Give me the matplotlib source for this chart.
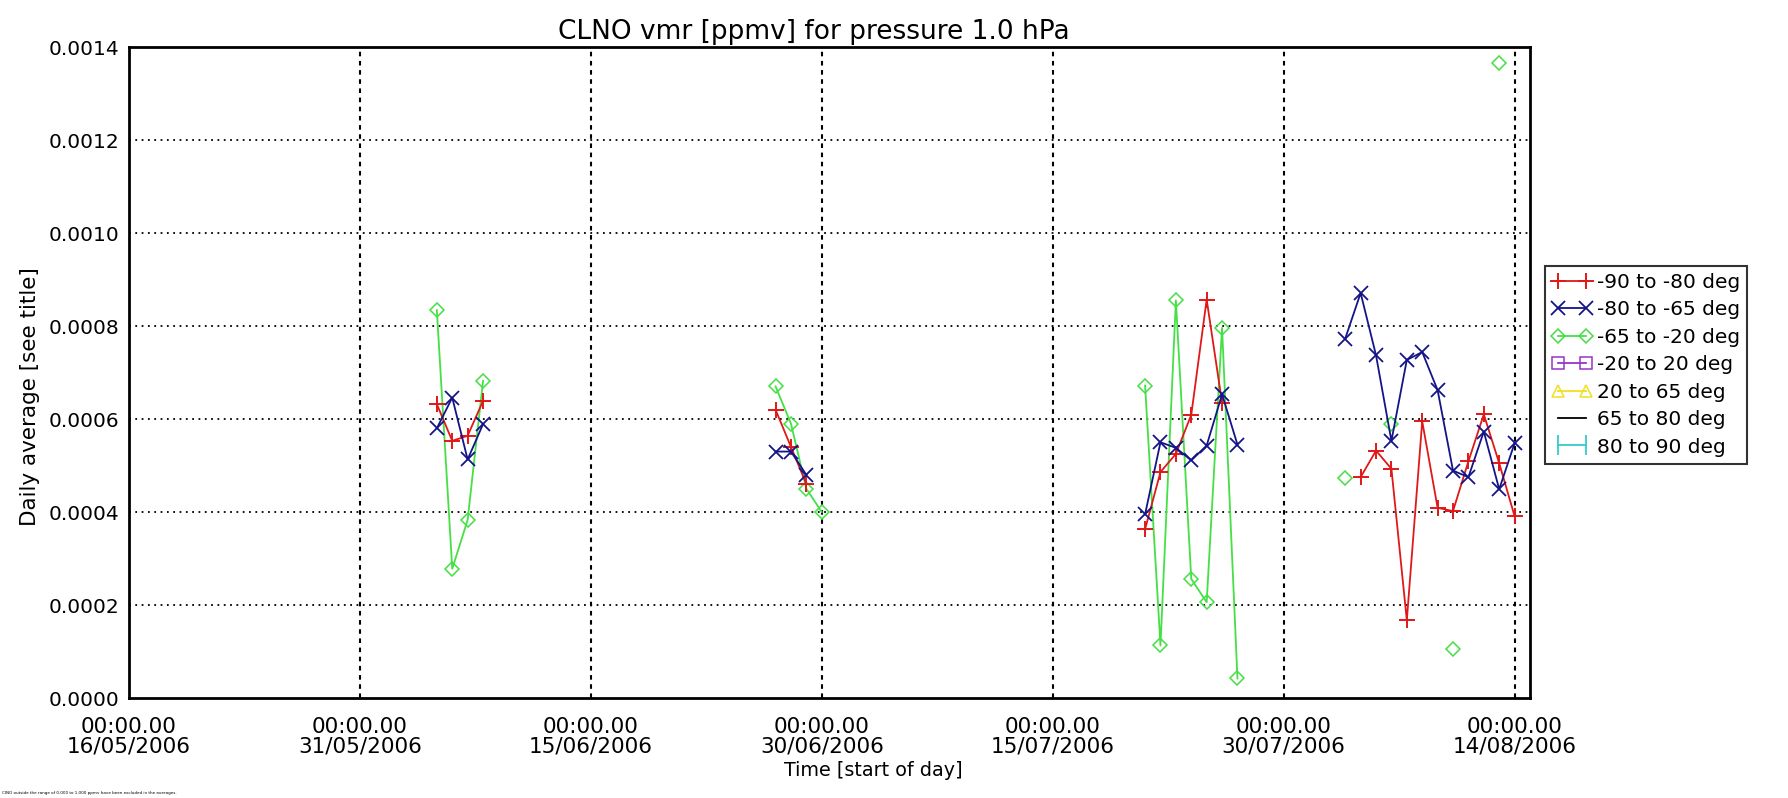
import numpy as np
import pandas as pd
import matplotlib
matplotlib.use("Agg")
import matplotlib.pyplot as plt

# ---------------- data ----------------
red_dates = ["2006-06-05", "2006-06-06", "2006-06-07", "2006-06-08",
             "2006-06-27", "2006-06-28", "2006-06-29",
             "2006-07-21", "2006-07-22", "2006-07-23", "2006-07-24", "2006-07-25", "2006-07-26",
             "2006-08-04", "2006-08-05", "2006-08-06", "2006-08-07", "2006-08-08", "2006-08-09",
             "2006-08-10", "2006-08-11", "2006-08-12", "2006-08-13", "2006-08-14"]
red_vals = [0.000632, 0.000553, 0.000564, 0.000639,
            0.000620, 0.000540, 0.000460,
            0.000363, 0.000486, 0.000525, 0.000609, 0.000857, 0.000635,
            0.000475, 0.000532, 0.000493, 0.000167, 0.000595, 0.000409,
            0.000402, 0.000509, 0.000610, 0.000505, 0.000391]

blue_dates = ["2006-06-05", "2006-06-06", "2006-06-07", "2006-06-08",
              "2006-06-27", "2006-06-28", "2006-06-29",
              "2006-07-21", "2006-07-22", "2006-07-23", "2006-07-24", "2006-07-25", "2006-07-26", "2006-07-27",
              "2006-08-03", "2006-08-04", "2006-08-05", "2006-08-06", "2006-08-07", "2006-08-08",
              "2006-08-09", "2006-08-10", "2006-08-11", "2006-08-12", "2006-08-13", "2006-08-14"]
blue_vals = [0.000580, 0.000646, 0.000513, 0.000589,
             0.000530, 0.000530, 0.000480,
             0.000395, 0.000550, 0.000538, 0.000511, 0.000543, 0.000653, 0.000545,
             0.000773, 0.000871, 0.000737, 0.000553, 0.000727, 0.000744,
             0.000662, 0.000489, 0.000475, 0.000573, 0.000449, 0.000548]

green_dates = ["2006-06-05", "2006-06-06", "2006-06-07", "2006-06-08",
               "2006-06-27", "2006-06-28", "2006-06-29", "2006-06-30",
               "2006-07-21", "2006-07-22", "2006-07-23", "2006-07-24", "2006-07-25", "2006-07-26", "2006-07-27",
               "2006-08-03", "2006-08-06", "2006-08-10", "2006-08-13"]
green_vals = [0.000834, 0.000278, 0.000383, 0.000682,
              0.000670, 0.000590, 0.000450, 0.000400,
              0.000672, 0.000113, 0.000855, 0.000256, 0.000206, 0.000796, 0.000042,
              0.000473, 0.000589, 0.000106, 0.001366]

legend_labels = ["-90 to -80 deg", "-80 to -65 deg", "-65 to -20 deg", "-20 to 20 deg",
                 "20 to 65 deg", "65 to 80 deg", "80 to 90 deg"]
xtick_dates = ["2006-05-16", "2006-05-31", "2006-06-15", "2006-06-30",
               "2006-07-15", "2006-07-30", "2006-08-14"]
yticks = [0.0000, 0.0002, 0.0004, 0.0006, 0.0008, 0.0010, 0.0012, 0.0014]

# ---------------- figure ----------------
plt.rcParams['font.family'] = ['DejaVu Sans']
fig = plt.figure(figsize=(17.88, 7.98), dpi=100)
ax = fig.add_axes([0.0721, 0.1253, 0.7836, 0.8158])

def daily(dates, vals):
    s = pd.Series(vals, index=pd.to_datetime(dates))
    full = pd.date_range(s.index.min(), s.index.max(), freq="D")
    return s.reindex(full)

RED = "#e01818"
BLUE = "#141488"
GREEN = "#44e044"

s = daily(red_dates, red_vals)
ax.plot(s.index, s.values, color=RED, marker="+", ms=11, mew=1.4, lw=1.3, zorder=3)
s = daily(blue_dates, blue_vals)
ax.plot(s.index, s.values, color=BLUE, marker="x", ms=10, mew=1.3, lw=1.3, zorder=4)
s = daily(green_dates, green_vals)
ax.plot(s.index, s.values, color=GREEN, marker="D", ms=7.5, mfc="none", mew=1.1, lw=1.3, zorder=2)

# legend handles
styles = [dict(color=RED, marker="+", ms=11, mew=1.4),
          dict(color=BLUE, marker="x", ms=10, mew=1.3),
          dict(color=GREEN, marker="D", ms=7.5, mfc="none", mew=1.1),
          dict(color="#9933cc", marker="s", ms=9, mfc="none", mew=1.1),
          dict(color="#f0e020", marker="^", ms=9, mfc="none", mew=1.1),
          dict(color="black", marker=None),
          dict(color="#33cccc", marker="|", ms=14, mew=1.3)]
handles = [plt.Line2D([], [], lw=1.3, **st) for st in styles]
leg = fig.legend(handles, legend_labels, loc="upper left",
                 bbox_to_anchor=(0.8642, 0.667), fontsize=14.5, numpoints=2,
                 handlelength=2.0, handletextpad=0.2, labelspacing=0.42,
                 borderpad=0.35, borderaxespad=0.0, fancybox=False, frameon=True)
leg.get_frame().set_edgecolor("black")
leg.get_frame().set_linewidth(1.5)

# axes
ax.set_xlim(pd.Timestamp("2006-05-16"), pd.Timestamp("2006-08-15"))
ax.set_ylim(0, 0.0014)
xt = pd.to_datetime(xtick_dates)
ax.set_xticks(xt)
ax.set_xticklabels(["00:00.00\n" + d.strftime("%d/%m/%Y") for d in xt], fontsize=15.5,
                   linespacing=0.92)
ax.set_yticks(yticks)
ax.set_yticklabels([f"{v:.4f}" for v in yticks], fontsize=14.5)
ax.tick_params(axis="x", length=0, pad=14)
ax.tick_params(axis="y", length=0, pad=7)
for v in yticks[1:-1]:
    ax.axhline(v, color="black", lw=1.3, ls=(0, (1, 2.5)), zorder=1)
for d in xt[1:]:
    ax.axvline(d, color="black", lw=1.5, ls=(0, (2.2, 2.2)), zorder=1)
for sp in ax.spines.values():
    sp.set_linewidth(2)

fig.text(0.4554, 0.96, "CLNO vmr [ppmv] for pressure 1.0 hPa", fontsize=19,
         ha="center", va="center")
fig.text(0.4885, 0.034, "Time [start of day]", fontsize=13.8, ha="center", va="center")
fig.text(0.0165, 0.503, "Daily average [see title]", fontsize=15.5, rotation=90,
         ha="center", va="center")

fig.text(0.001, 0.004, "ClNO outside the range of 0.000 to 1.000 ppmv have been excluded in the averages.",
         fontsize=3, ha="left", va="bottom")

fig.savefig("out.png", dpi=100)
